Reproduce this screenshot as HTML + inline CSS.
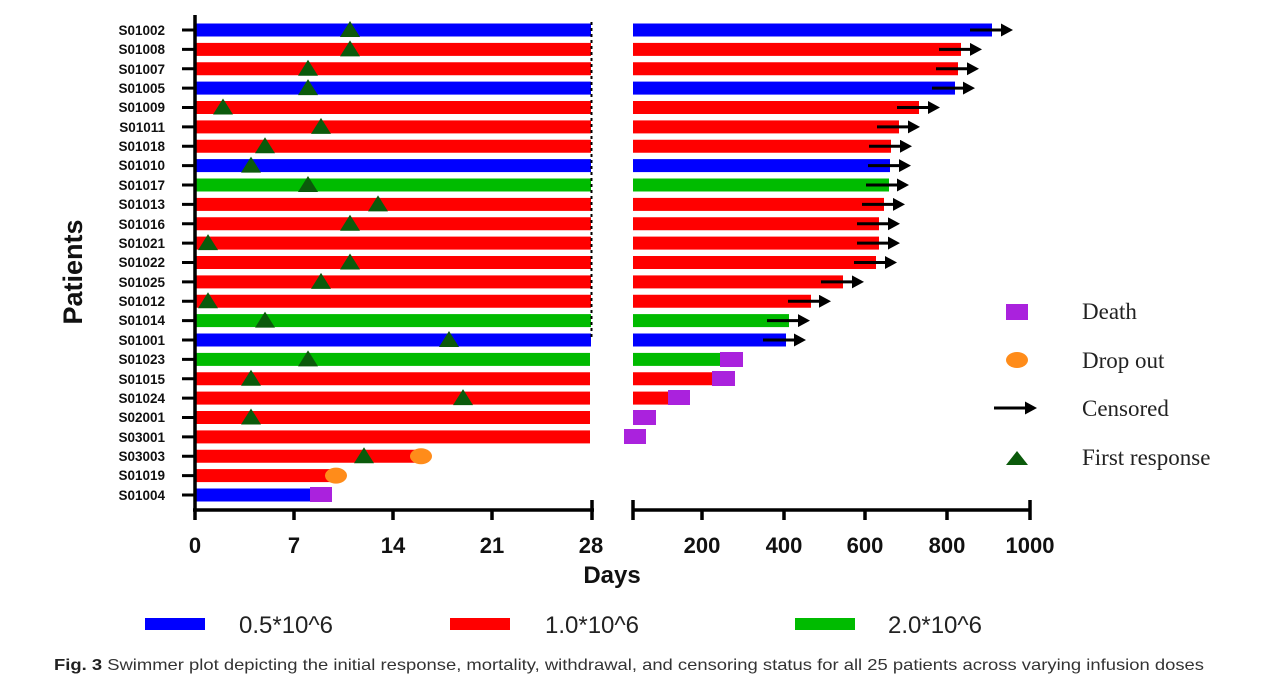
<!DOCTYPE html>
<html><head><meta charset="utf-8"><style>
html,body{margin:0;padding:0;background:#fff;}
svg{display:block}
</style></head><body>
<svg width="1283" height="677" viewBox="0 0 1283 677" xmlns="http://www.w3.org/2000/svg" font-family="Liberation Sans, sans-serif">
<defs>
<marker id="ah" markerWidth="13" markerHeight="13" refX="0" refY="6.5" orient="auto" markerUnits="userSpaceOnUse"><polygon points="0,0 12,6.5 0,13" fill="#000"/></marker>
<symbol id="tri" overflow="visible"><polygon points="-10,7 0,-9 10,7" fill="#0b5a0b"/></symbol>
</defs>
<g font-weight="bold" font-size="13.5" fill="#111" text-anchor="end">
<text x="165" y="35">S01002</text><text x="165" y="54">S01008</text><text x="165" y="74">S01007</text><text x="165" y="93">S01005</text><text x="165" y="112">S01009</text><text x="165" y="132">S01011</text><text x="165" y="151">S01018</text><text x="165" y="170">S01010</text><text x="165" y="190">S01017</text><text x="165" y="209">S01013</text><text x="165" y="229">S01016</text><text x="165" y="248">S01021</text><text x="165" y="267">S01022</text><text x="165" y="287">S01025</text><text x="165" y="306">S01012</text><text x="165" y="325">S01014</text><text x="165" y="345">S01001</text><text x="165" y="364">S01023</text><text x="165" y="384">S01015</text><text x="165" y="403">S01024</text><text x="165" y="422">S02001</text><text x="165" y="442">S03001</text><text x="165" y="461">S03003</text><text x="165" y="480">S01019</text><text x="165" y="500">S01004</text>
</g>
<g stroke="#000" stroke-width="3">
<path d="M182 30H195M182 49.4H195M182 68.75H195M182 88.1H195M182 107.5H195M182 126.9H195M182 146.25H195M182 165.6H195M182 185H195M182 204.4H195M182 223.75H195M182 243.1H195M182 262.5H195M182 281.9H195M182 301.25H195M182 320.6H195M182 340H195M182 359.4H195M182 378.75H195M182 398.1H195M182 417.5H195M182 436.9H195M182 456.25H195M182 475.6H195M182 495H195"/>
</g>
<g>
<rect x="195" y="23.5" width="396" height="13" fill="#0000ff"/><rect x="633" y="23.5" width="359" height="13" fill="#0000ff"/>
<rect x="195" y="42.9" width="396" height="13" fill="#ff0000"/><rect x="633" y="42.9" width="328" height="13" fill="#ff0000"/>
<rect x="195" y="62.25" width="396" height="13" fill="#ff0000"/><rect x="633" y="62.25" width="325" height="13" fill="#ff0000"/>
<rect x="195" y="81.6" width="396" height="13" fill="#0000ff"/><rect x="633" y="81.6" width="322" height="13" fill="#0000ff"/>
<rect x="195" y="101" width="396" height="13" fill="#ff0000"/><rect x="633" y="101" width="286" height="13" fill="#ff0000"/>
<rect x="195" y="120.4" width="396" height="13" fill="#ff0000"/><rect x="633" y="120.4" width="266" height="13" fill="#ff0000"/>
<rect x="195" y="139.75" width="396" height="13" fill="#ff0000"/><rect x="633" y="139.75" width="258" height="13" fill="#ff0000"/>
<rect x="195" y="159.1" width="396" height="13" fill="#0000ff"/><rect x="633" y="159.1" width="257" height="13" fill="#0000ff"/>
<rect x="195" y="178.5" width="396" height="13" fill="#00bb00"/><rect x="633" y="178.5" width="256" height="13" fill="#00bb00"/>
<rect x="195" y="197.9" width="396" height="13" fill="#ff0000"/><rect x="633" y="197.9" width="251" height="13" fill="#ff0000"/>
<rect x="195" y="217.25" width="396" height="13" fill="#ff0000"/><rect x="633" y="217.25" width="246" height="13" fill="#ff0000"/>
<rect x="195" y="236.6" width="396" height="13" fill="#ff0000"/><rect x="633" y="236.6" width="246" height="13" fill="#ff0000"/>
<rect x="195" y="256" width="396" height="13" fill="#ff0000"/><rect x="633" y="256" width="243" height="13" fill="#ff0000"/>
<rect x="195" y="275.4" width="396" height="13" fill="#ff0000"/><rect x="633" y="275.4" width="210" height="13" fill="#ff0000"/>
<rect x="195" y="294.75" width="396" height="13" fill="#ff0000"/><rect x="633" y="294.75" width="178" height="13" fill="#ff0000"/>
<rect x="195" y="314.1" width="396" height="13" fill="#00bb00"/><rect x="633" y="314.1" width="156" height="13" fill="#00bb00"/>
<rect x="195" y="333.5" width="396" height="13" fill="#0000ff"/><rect x="633" y="333.5" width="153" height="13" fill="#0000ff"/>
<rect x="195" y="352.9" width="395" height="13" fill="#00bb00"/><rect x="633" y="352.9" width="87" height="13" fill="#00bb00"/>
<rect x="195" y="372.25" width="395" height="13" fill="#ff0000"/><rect x="633" y="372.25" width="79" height="13" fill="#ff0000"/>
<rect x="195" y="391.6" width="395" height="13" fill="#ff0000"/><rect x="633" y="391.6" width="35" height="13" fill="#ff0000"/>
<rect x="195" y="411" width="395" height="13" fill="#ff0000"/>
<rect x="195" y="430.4" width="395" height="13" fill="#ff0000"/>
<rect x="195" y="449.75" width="225" height="13" fill="#ff0000"/>
<rect x="195" y="469.1" width="141" height="13" fill="#ff0000"/>
<rect x="195" y="488.5" width="120" height="13" fill="#0000ff"/>
</g>
<line x1="591.5" y1="22" x2="591.5" y2="340" stroke="#000" stroke-width="2" stroke-dasharray="3,3"/>
<g fill="#aa22dd">
<rect x="720" y="352" width="23" height="15"/><rect x="712" y="371" width="23" height="15"/><rect x="668" y="390" width="22" height="15"/><rect x="633" y="410" width="23" height="15"/><rect x="624" y="429" width="22" height="15"/><rect x="310" y="487" width="22" height="15"/>
</g>
<ellipse cx="421" cy="456.25" rx="11" ry="8" fill="#ff8c1a"/>
<ellipse cx="336" cy="475.6" rx="11" ry="8" fill="#ff8c1a"/>
<g stroke="#000" stroke-width="3" marker-end="url(#ah)">
<line x1="970" y1="30" x2="1001" y2="30"/><line x1="939" y1="49.4" x2="970" y2="49.4"/><line x1="936" y1="68.75" x2="967" y2="68.75"/><line x1="932" y1="88.1" x2="963" y2="88.1"/><line x1="897" y1="107.5" x2="928" y2="107.5"/><line x1="877" y1="126.9" x2="908" y2="126.9"/><line x1="869" y1="146.25" x2="900" y2="146.25"/><line x1="868" y1="165.6" x2="899" y2="165.6"/><line x1="866" y1="185" x2="897" y2="185"/><line x1="862" y1="204.4" x2="893" y2="204.4"/><line x1="857" y1="223.75" x2="888" y2="223.75"/><line x1="857" y1="243.1" x2="888" y2="243.1"/><line x1="854" y1="262.5" x2="885" y2="262.5"/><line x1="821" y1="281.9" x2="852" y2="281.9"/><line x1="788" y1="301.25" x2="819" y2="301.25"/><line x1="767" y1="320.6" x2="798" y2="320.6"/><line x1="763" y1="340" x2="794" y2="340"/>
</g>
<use href="#tri" x="350" y="30"/><use href="#tri" x="350" y="49.4"/><use href="#tri" x="308" y="68.75"/><use href="#tri" x="308" y="88.1"/><use href="#tri" x="223" y="107.5"/><use href="#tri" x="321" y="126.9"/><use href="#tri" x="265" y="146.25"/><use href="#tri" x="251" y="165.6"/><use href="#tri" x="308" y="185"/><use href="#tri" x="378" y="204.4"/><use href="#tri" x="350" y="223.75"/><use href="#tri" x="208" y="243.1"/><use href="#tri" x="350" y="262.5"/><use href="#tri" x="321" y="281.9"/><use href="#tri" x="208" y="301.25"/><use href="#tri" x="265" y="320.6"/><use href="#tri" x="449" y="340"/><use href="#tri" x="308" y="359.4"/><use href="#tri" x="251" y="378.75"/><use href="#tri" x="463" y="398.1"/><use href="#tri" x="251" y="417.5"/><use href="#tri" x="364" y="456.25"/>
<g stroke="#000" stroke-width="3.5" fill="none">
<line x1="195" y1="15" x2="195" y2="520"/>
<line x1="193" y1="510" x2="594" y2="510"/>
<path d="M294 510V520M393 510V520M492 510V520M592 500V520"/>
<line x1="633" y1="510" x2="1031" y2="510"/>
<path d="M633 500V520M702 510V520M784 510V520M865 510V520M947 510V520M1030 500V520"/>
</g>
<g font-weight="bold" font-size="22" fill="#111" text-anchor="middle">
<text x="195" y="553">0</text><text x="294" y="553">7</text><text x="393" y="553">14</text><text x="492" y="553">21</text><text x="591" y="553">28</text>
<text x="702" y="553">200</text><text x="784" y="553">400</text><text x="865" y="553">600</text><text x="947" y="553">800</text><text x="1030" y="553">1000</text>
<text x="612" y="583" font-size="24">Days</text>
<text transform="translate(82,272) rotate(-90)" font-size="27">Patients</text>
</g>
<rect x="1006" y="304" width="22" height="16" fill="#aa22dd"/>
<ellipse cx="1017" cy="360" rx="11" ry="8" fill="#ff8c1a"/>
<line x1="994" y1="408" x2="1025" y2="408" stroke="#000" stroke-width="3" marker-end="url(#ah)"/>
<polygon points="1006,465 1017,451 1028,465" fill="#0b5a0b"/>
<g font-family="Liberation Serif, serif" font-size="23" fill="#222">
<text x="1082" y="319">Death</text><text x="1082" y="368">Drop out</text><text x="1082" y="416">Censored</text><text x="1082" y="465">First response</text>
</g>
<rect x="145" y="618" width="60" height="12" fill="#0000ff"/>
<rect x="450" y="618" width="60" height="12" fill="#ff0000"/>
<rect x="795" y="618" width="60" height="12" fill="#00bb00"/>
<g font-size="24" fill="#222">
<text x="239" y="633">0.5*10^6</text><text x="545" y="633">1.0*10^6</text><text x="888" y="633">2.0*10^6</text>
</g>
<text x="54" y="670" font-size="16" fill="#333" textLength="1150" lengthAdjust="spacingAndGlyphs"><tspan font-weight="bold" fill="#222">Fig. 3</tspan>  Swimmer plot depicting the initial response, mortality, withdrawal, and censoring status for all 25 patients across varying infusion doses</text>
</svg>
</body></html>
